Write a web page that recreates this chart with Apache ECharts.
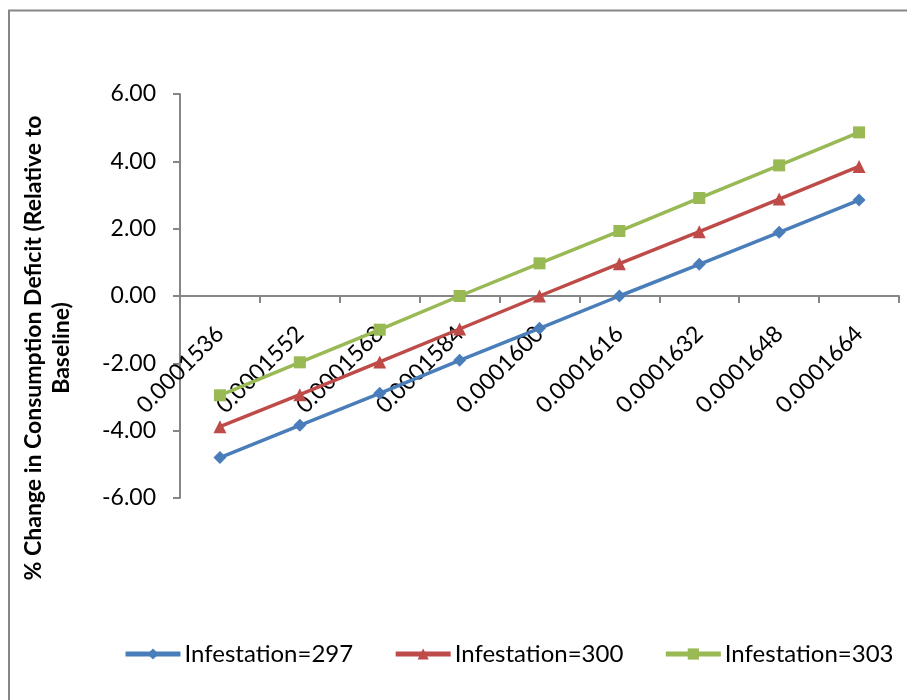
<!DOCTYPE html>
<html>
<head>
<meta charset="utf-8">
<script src="https://cdn.jsdelivr.net/npm/echarts@6/dist/echarts.min.js"></script>
<style>
  html, body { margin: 0; padding: 0; background: #fff; }
  #chart { width: 907px; height: 700px; }
</style>
</head>
<body>
<div id="chart"></div>
<script>
// Parameter values along the x axis
const categories = ['0.0001536', '0.0001552', '0.0001568', '0.0001584', '0.0001600',
                    '0.0001616', '0.0001632', '0.0001648', '0.0001664'];

// % change in consumption deficit for each infestation level
const infest297 = [-4.80, -3.84, -2.89, -1.91, -0.96, 0.00, 0.94, 1.89, 2.85];
const infest300 = [-3.88, -2.93, -1.96, -0.98, 0.00, 0.96, 1.91, 2.88, 3.85];
const infest303 = [-2.95, -1.97, -1.00, 0.00, 0.97, 1.93, 2.91, 3.88, 4.86];

const seriesNames = ['Infestation=297', 'Infestation=300', 'Infestation=303'];
const yTitle = '% Change in Consumption Deficit (Relative to\nBaseline)';

const FONT = 'Lato, "Open Sans", sans-serif';
const AXIS_GRAY = '#868686';

// plot area in pixels; the category axis sits on the zero line (middle of -6..6)
const GRID = { left: 180, right: 8, top: 94, bottom: 202 };
const plotHeight = 700 - GRID.top - GRID.bottom;

const chart = echarts.init(document.getElementById('chart'), null, { renderer: 'canvas' });

function lineSeries(name, data, color, symbol, size) {
  return {
    name: name,
    type: 'line',
    data: data,
    symbol: symbol,
    symbolSize: size,
    lineStyle: { color: color, width: 3.5 },
    itemStyle: { color: color },
    emphasis: { disabled: true }
  };
}

chart.setOption({
  animation: false,
  backgroundColor: '#fff',
  textStyle: { fontFamily: FONT },
  grid: GRID,
  graphic: [
    {
      type: 'rect',
      shape: { x: 9, y: 10.5, width: 1000, height: 1000 },
      style: { fill: 'none', stroke: AXIS_GRAY, lineWidth: 2 },
      silent: true
    },
    {
      type: 'text',
      x: 48, y: 348,
      rotation: Math.PI / 2,
      style: {
        text: yTitle,
        font: 'bold 23px ' + FONT,
        fill: '#000',
        align: 'center',
        verticalAlign: 'middle',
        lineHeight: 28
      },
      silent: true
    }
  ],
  legend: {
    left: 123,
    top: 642,
    padding: 0,
    itemWidth: 55,
    itemHeight: 14,
    itemGap: 40,
    lineStyle: { width: 5 },
    textStyle: { fontFamily: FONT, fontSize: 24, color: '#000', padding: [0, 0, 0, -1] },
    data: seriesNames
  },
  xAxis: {
    type: 'category',
    data: categories,
    boundaryGap: true,
    offset: -plotHeight / 2,
    axisLine: { onZero: false, lineStyle: { color: AXIS_GRAY, width: 2 } },
    axisTick: { show: true, length: 7, inside: false, lineStyle: { color: AXIS_GRAY, width: 2 } },
    axisLabel: {
      rotate: 45,
      margin: 34,
      color: '#000',
      fontFamily: FONT,
      fontSize: 23,
      interval: 0
    },
    splitLine: { show: false }
  },
  yAxis: {
    type: 'value',
    min: -6,
    max: 6,
    interval: 2,
    axisLine: { show: true, lineStyle: { color: AXIS_GRAY, width: 2 } },
    axisTick: { show: true, length: 7, lineStyle: { color: AXIS_GRAY, width: 2 } },
    axisLabel: {
      margin: 24,
      color: '#000',
      fontFamily: FONT,
      fontSize: 23,
      formatter: v => v.toFixed(2)
    },
    splitLine: { show: false }
  },
  series: [
    lineSeries(seriesNames[0], infest297, '#4A7EBB', 'diamond', 13),
    lineSeries(seriesNames[1], infest300, '#BE4B48', 'triangle', 13),
    lineSeries(seriesNames[2], infest303, '#98B954', 'rect', 12)
  ]
});
</script>
</body>
</html>
